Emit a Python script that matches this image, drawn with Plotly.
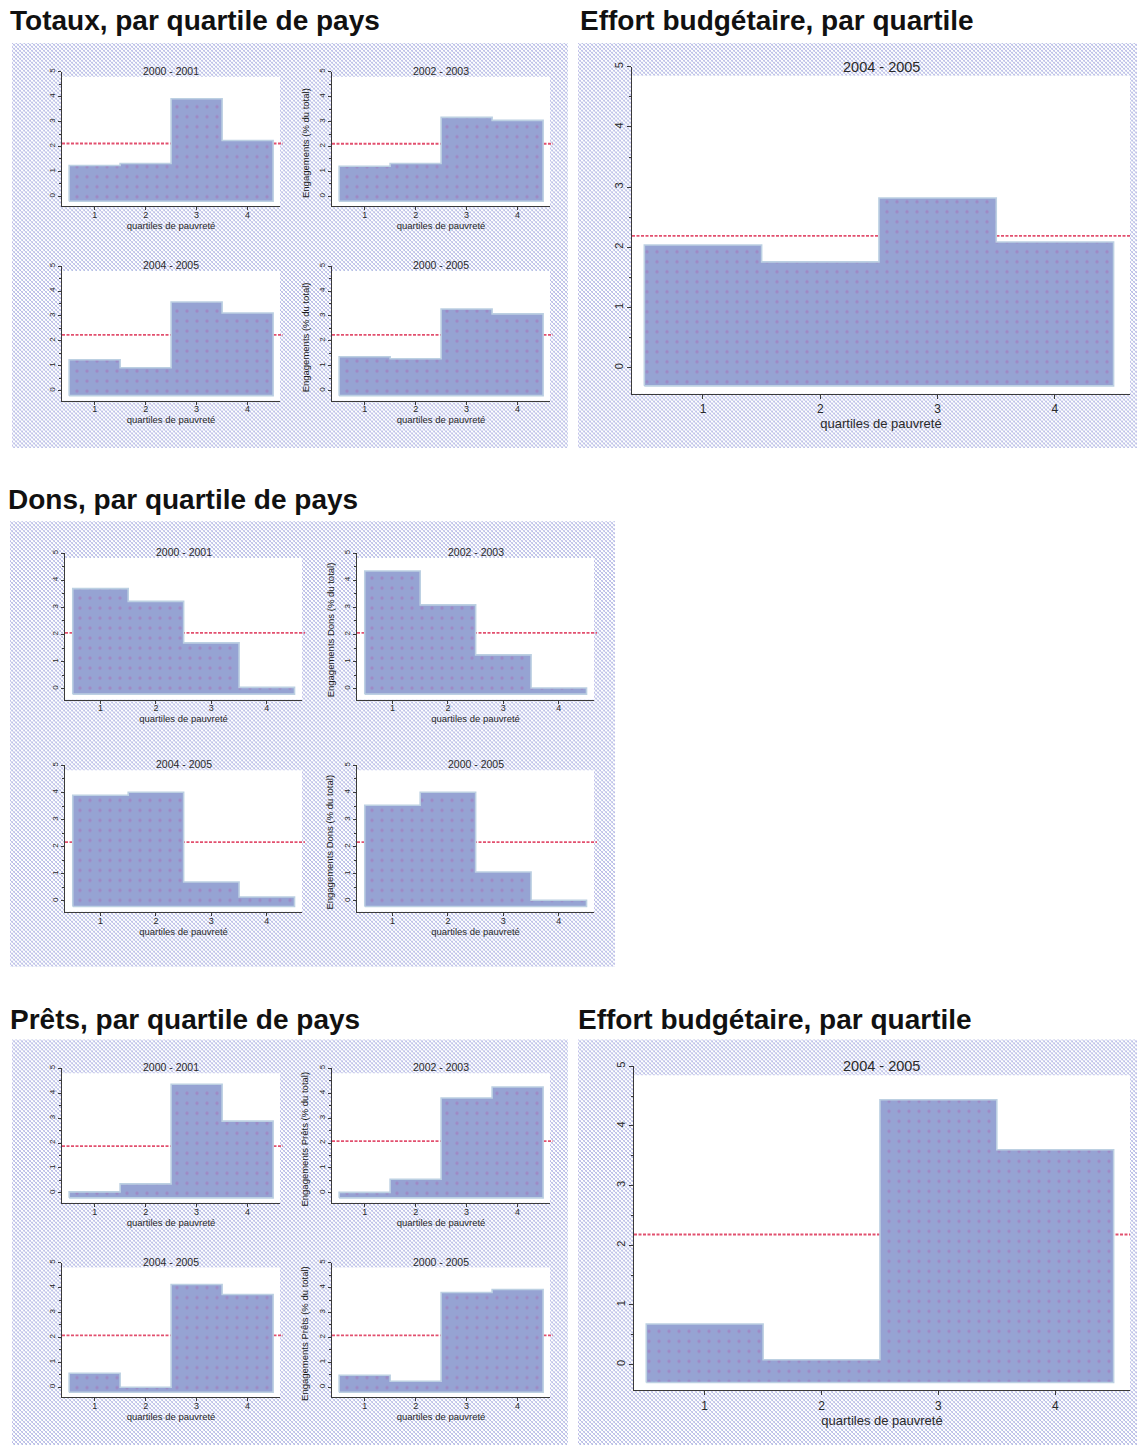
import base64
import plotly.graph_objects as go

W, H = 1137, 1445

# ---------------- données ----------------
quartiles = [1, 2, 3, 4]
quartile_labels = ["1", "2", "3", "4"]
y_ticks = [0, 1, 2, 3, 4, 5]
y_tick_labels = ["0", "1", "2", "3", "4", "5"]
periodes = ["2000 - 2001", "2002 - 2003", "2004 - 2005", "2000 - 2005"]
periode_effort = "2004 - 2005"

totaux_2000_2001 = [1.24, 1.32, 3.92, 2.24]
totaux_2002_2003 = [1.21, 1.32, 3.17, 3.05]
totaux_2004_2005 = [1.24, 0.92, 3.56, 3.12]
totaux_2000_2005 = [1.36, 1.28, 3.28, 3.08]
totaux_moyennes = [2.12, 2.11, 2.24, 2.24]

effort_totaux_2004_2005 = [2.04, 1.76, 2.82, 2.09]
effort_totaux_moyenne = 2.19

dons_2000_2001 = [3.69, 3.22, 1.69, 0.05]
dons_2002_2003 = [4.34, 3.09, 1.25, 0.03]
dons_2004_2005 = [3.90, 4.01, 0.70, 0.15]
dons_2000_2005 = [3.53, 4.01, 1.07, 0.03]
dons_moyennes = [2.06, 2.06, 2.17, 2.17]

prets_2000_2001 = [0.04, 0.36, 4.36, 2.88]
prets_2002_2003 = [0.02, 0.55, 3.81, 4.25]
prets_2004_2005 = [0.56, 0.00, 4.12, 3.72]
prets_2000_2005 = [0.48, 0.24, 3.80, 3.92]
prets_moyennes = [1.88, 2.08, 2.08, 2.08]

effort_prets_2004_2005 = [0.68, 0.08, 4.44, 3.60]
effort_prets_moyenne = 2.18

titre_totaux = "Totaux, par quartile de pays"
titre_effort = "Effort budgétaire, par quartile"
titre_dons = "Dons, par quartile de pays"
titre_prets = "Prêts, par quartile de pays"
x_titre = "quartiles de pauvreté"
y_titre_totaux = "Engagements (% du total)"
y_titre_dons = "Engagements Dons (% du total)"
y_titre_prets = "Engagements Prêts (% du total)"

# ---------------- style ----------------
FONT = "Liberation Sans"
BAR_COLOR = "#96a3d3"
DOT_COLOR = "#a670b8"
EDGE_COLOR = "#bcd0e2"
MEAN_COLOR = "#e2506f"
AXIS_COLOR = "#3a3a3a"
TEXT_COLOR = "#2a2a2a"


def px_x(p):
    return p / W


def px_y(p):
    return 1 - p / H


fig = go.Figure()
axes = {}
shapes = []
annotations = []
images = []
counter = [0]


def pattern_uri(w, h):
    svg = (
        f'<svg xmlns="http://www.w3.org/2000/svg" width="{w}" height="{h}" '
        f'viewBox="0 0 {w} {h}" preserveAspectRatio="none" shape-rendering="crispEdges">'
        '<defs><pattern id="p" width="4" height="4" patternUnits="userSpaceOnUse">'
        '<rect width="4" height="4" fill="#ffffff"/>'
        '<rect x="0" y="0" width="1" height="1" fill="#b9b9e6"/>'
        '<rect x="1" y="1" width="1" height="1" fill="#b9b9e6"/>'
        '<rect x="2" y="2" width="1" height="1" fill="#b9b9e6"/>'
        '<rect x="3" y="3" width="1" height="1" fill="#b9b9e6"/>'
        '<rect x="3" y="0" width="1" height="1" fill="#d2e4ec"/>'
        '<rect x="2" y="1" width="1" height="1" fill="#c9c9ee"/>'
        '<rect x="1" y="2" width="1" height="1" fill="#d2e4ec"/>'
        '<rect x="0" y="3" width="1" height="1" fill="#c9c9ee"/>'
        '</pattern></defs><rect width="100%" height="100%" fill="url(#p)"/></svg>'
    )
    return "data:image/svg+xml;base64," + base64.b64encode(svg.encode()).decode()


def add_background(box):
    x0, x1, y0, y1 = box
    images.append(dict(
        source=pattern_uri(x1 - x0, y1 - y0), xref="paper", yref="paper",
        x=px_x(x0), y=px_y(y0), sizex=(x1 - x0) / W, sizey=(y1 - y0) / H,
        xanchor="left", yanchor="top", sizing="stretch", layer="below"))


def add_chart(box, values, mean, title, big=False, ytitle=None):
    counter[0] += 1
    k = counter[0]
    sfx = "" if k == 1 else str(k)
    xr, yr = "x" + sfx, "y" + sfx
    x0, x1, y0, y1 = box
    base = -0.30 if big else -0.20
    ymin = -0.43 if big else -0.40
    xrange = [0.395, 4.64] if big else [0.36, 4.635]
    ytf = 11 if big else 8
    xtf = 12 if big else 9
    xttf = 13 if big else 9.5
    ttf = 14.5 if big else 10.5

    # white plot region
    shapes.append(dict(type="rect", xref="paper", yref="paper", layer="below",
                       x0=px_x(x0), x1=px_x(x1), y0=px_y(y1),
                       y1=px_y(y0 + (9 if big else 5)),
                       fillcolor="white", line=dict(width=0)))
    # mean line (below bars)
    shapes.append(dict(type="line", xref="paper", yref=yr, layer="below",
                       x0=px_x(x0), x1=px_x(x1 + (0 if big else 3)), y0=mean, y1=mean,
                       line=dict(color=MEAN_COLOR, width=1.8, dash="3px,1.5px")))

    fig.add_trace(go.Bar(
        x=quartiles, y=[v - base for v in values], base=base, width=1,
        marker=dict(color=BAR_COLOR, line=dict(width=0),
                    pattern=dict(shape=".", fgcolor=DOT_COLOR, size=10,
                                 solidity=0.09, fillmode="overlay")),
        xaxis=xr, yaxis=yr, showlegend=False, hoverinfo="skip"))

    # light outline of the step area
    ex = [quartiles[0] - 0.5] + [q - 0.5 for q in quartiles] + \
         [quartiles[-1] + 0.5, quartiles[-1] + 0.5, quartiles[0] - 0.5]
    ey = [base] + list(values) + [values[-1], base, base]
    fig.add_trace(go.Scatter(
        x=ex, y=ey, mode="lines", line=dict(color=EDGE_COLOR, width=1.6, shape="hv"),
        xaxis=xr, yaxis=yr, showlegend=False, hoverinfo="skip"))

    axes["xaxis" + sfx] = dict(
        domain=[px_x(x0), px_x(x1)], anchor=yr, range=xrange,
        tickmode="array", tickvals=quartiles, ticktext=quartile_labels,
        ticks="outside", ticklen=4 if big else 3, tickcolor=AXIS_COLOR,
        ticklabelstandoff=0 if big else -3,
        showline=True, linecolor=AXIS_COLOR, linewidth=1,
        showgrid=False, zeroline=False,
        tickfont=dict(size=xtf, color=TEXT_COLOR),
        title=dict(text=x_titre, font=dict(size=xttf, color=TEXT_COLOR),
                   standoff=3 if big else 1))
    axes["yaxis" + sfx] = dict(
        domain=[px_y(y1), px_y(y0)], anchor=xr, range=[ymin, 5],
        tickmode="array", tickvals=y_ticks, ticktext=y_tick_labels,
        ticks="outside", ticklen=4 if big else 3, tickcolor=AXIS_COLOR,
        tickangle=-90,
        minor=dict(ticks="outside", ticklen=2, dtick=0.5, tick0=0,
                   tickcolor=AXIS_COLOR),
        showline=True, linecolor=AXIS_COLOR, linewidth=1,
        showgrid=False, zeroline=False,
        tickfont=dict(size=ytf, color=TEXT_COLOR))

    annotations.append(dict(
        text=title, xref="paper", yref="paper", x=px_x((x0 + x1) / 2),
        y=px_y(y0 + (0 if big else -1)), xanchor="center", yanchor="middle",
        showarrow=False, font=dict(size=ttf, color=TEXT_COLOR, family=FONT)))
    if ytitle:
        annotations.append(dict(
            text=ytitle, xref="paper", yref="paper", x=px_x(x0 - 27),
            y=px_y((y0 + y1) / 2 + 4), xanchor="center", yanchor="middle",
            textangle=-90, showarrow=False,
            font=dict(size=9.5, color="#1a1a1a", family=FONT)))


def panel_title(text, x, ymid):
    annotations.append(dict(
        text="<b>" + text + "</b>", xref="paper", yref="paper",
        x=px_x(x), y=px_y(ymid), xanchor="left", yanchor="middle",
        showarrow=False, font=dict(size=28, color="#111111", family=FONT)))


# ---------------- panneaux ----------------
for bg in [(12, 568, 38, 445), (578, 1137, 38, 445), (10, 615, 518, 965),
           (12, 568, 1038, 1445), (578, 1137, 1038, 1445)]:
    add_background(bg)

panel_title(titre_totaux, 8, 16)
panel_title(titre_effort, 578, 16)
panel_title(titre_dons, 6, 496)
panel_title(titre_prets, 8, 1018)
panel_title(titre_effort, 576, 1018)

series_totaux = [totaux_2000_2001, totaux_2002_2003, totaux_2004_2005, totaux_2000_2005]
series_dons = [dons_2000_2001, dons_2002_2003, dons_2004_2005, dons_2000_2005]
series_prets = [prets_2000_2001, prets_2002_2003, prets_2004_2005, prets_2000_2005]

boxes_a = [(62, 280, 67, 202), (332, 550, 67, 202), (62, 280, 262, 397), (332, 550, 262, 397)]
boxes_c = [(65, 302, 550, 697), (357, 594, 550, 697), (65, 302, 763, 910), (357, 594, 763, 910)]
boxes_d = [(62, 280, 1067, 1202), (332, 550, 1067, 1202), (62, 280, 1262, 1397), (332, 550, 1262, 1397)]

for i in range(4):
    add_chart(boxes_a[i], series_totaux[i], totaux_moyennes[i], periodes[i],
              ytitle=y_titre_totaux if i % 2 == 1 else None)
add_chart((632, 1130, 62, 390), effort_totaux_2004_2005, effort_totaux_moyenne,
          periode_effort, big=True)
for i in range(4):
    add_chart(boxes_c[i], series_dons[i], dons_moyennes[i], periodes[i],
              ytitle=y_titre_dons if i % 2 == 1 else None)
for i in range(4):
    add_chart(boxes_d[i], series_prets[i], prets_moyennes[i], periodes[i],
              ytitle=y_titre_prets if i % 2 == 1 else None)
add_chart((634, 1130, 1065, 1390), effort_prets_2004_2005, effort_prets_moyenne,
          periode_effort, big=True)

fig.update_layout(
    width=W, height=H, margin=dict(l=0, r=0, t=0, b=0),
    paper_bgcolor="white", plot_bgcolor="rgba(0,0,0,0)",
    font=dict(family=FONT, color=TEXT_COLOR),
    bargap=0, shapes=shapes, annotations=annotations, images=images,
    showlegend=False, **axes)

fig.write_html(
    "out.html",
    config={"displayModeBar": False},
    post_script="document.body.style.margin='0px';document.body.style.padding='0px';"
                "document.documentElement.style.overflow='hidden';",
)
